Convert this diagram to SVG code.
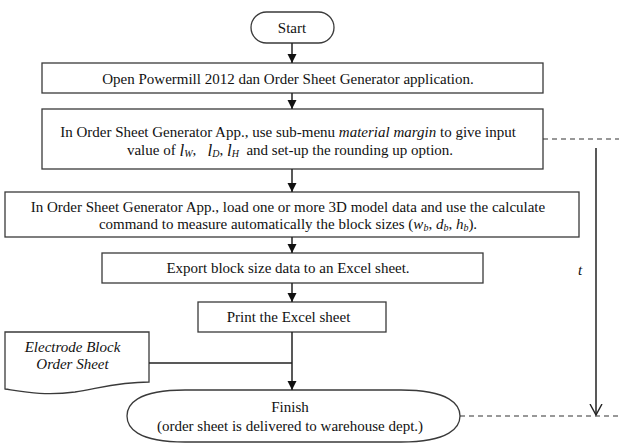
<svg xmlns="http://www.w3.org/2000/svg" width="619" height="448" viewBox="0 0 619 448">
<style>
.box{fill:#fff;stroke:#3a3a3a;stroke-width:1.3}
.t{font-family:"Liberation Serif","Times New Roman",serif;font-size:15px;fill:#111;text-anchor:middle;dominant-baseline:central}
.i{font-style:italic}
.m{font-style:italic;font-size:17px}
.sub{font-size:10px;font-style:italic}
.ln{stroke:#222;stroke-width:1.5;fill:none}
.dash{stroke:#333;stroke-width:1.2;stroke-dasharray:5,4;fill:none}
</style>
<defs>
<marker id="ah" markerWidth="10" markerHeight="10" refX="9" refY="5" orient="auto" markerUnits="userSpaceOnUse">
<path d="M0,0.5 L9,5 L0,9.5 Z" fill="#111"/>
</marker>
<marker id="oa" markerWidth="14" markerHeight="16" refX="11" refY="7" orient="auto" markerUnits="userSpaceOnUse">
<path d="M0,1 L11,7 L0,13" fill="none" stroke="#222" stroke-width="1.4"/>
</marker>
</defs>
<g id="start">
<rect class="box" x="251" y="12" width="83" height="31" rx="15.5" ry="15.5"/>
<text class="t" x="292" y="27.5">Start</text>
</g>
<g id="step1">
<rect class="box" x="42" y="63" width="501" height="30"/>
<text class="t" x="288" y="78.5">Open Powermill 2012 dan Order Sheet Generator application.</text>
</g>
<g id="step2">
<rect class="box" x="42" y="109" width="501" height="60"/>
<text class="t" x="288" y="131.5">In Order Sheet Generator App., use sub-menu <tspan class="i">material margin</tspan> to give input</text>
<text class="t" x="290" y="149.5" xml:space="preserve">value of <tspan class="m">l</tspan><tspan class="sub" dy="3">W</tspan><tspan dy="-3">,   </tspan><tspan class="m">l</tspan><tspan class="sub" dy="3">D</tspan><tspan dy="-3">, </tspan><tspan class="m">l</tspan><tspan class="sub" dy="3">H</tspan><tspan dy="-3">  and set-up the rounding up option.</tspan></text>
</g>
<g id="step3">
<rect class="box" x="5" y="192" width="574" height="45"/>
<text class="t" x="288" y="206.5">In Order Sheet Generator App., load one or more 3D model data and use the calculate</text>
<text class="t" x="288" y="223.5">command to measure automatically the block sizes (<tspan class="i">w</tspan><tspan class="sub" dy="3">b</tspan><tspan dy="-3">, </tspan><tspan class="i">d</tspan><tspan class="sub" dy="3">b</tspan><tspan dy="-3">, </tspan><tspan class="i">h</tspan><tspan class="sub" dy="3">b</tspan><tspan dy="-3">).</tspan></text>
</g>
<g id="step4">
<rect class="box" x="102" y="253" width="381" height="30"/>
<text class="t" x="288" y="268">Export block size data to an Excel sheet.</text>
</g>
<g id="step5">
<rect class="box" x="198" y="302" width="188" height="30"/>
<text class="t" x="288.5" y="317">Print the Excel sheet</text>
</g>
<g id="document">
<path class="box" d="M5,332 L149,332 L149,382 C120,382 100,388 75,392 C45,396 25,392 5,389 Z"/>
<text class="t i" x="72.5" y="347">Electrode Block</text>
<text class="t i" x="72.5" y="364">Order Sheet</text>
</g>
<g id="finish">
<path class="box" d="M185,390 L401,390 C450,390 460,405 460,416 C460,427 450,442 401,442 L185,442 C136,442 127,427 127,416 C127,405 136,390 185,390 Z"/>
<text class="t" x="290" y="407">Finish</text>
<text class="t" x="290" y="426">(order sheet is delivered to warehouse dept.)</text>
</g>
<g id="time">
<text class="t i" x="580" y="270">t</text>
</g>
<g id="connectors">
<line class="ln" x1="292" y1="43" x2="292" y2="63" marker-end="url(#ah)"/>
<line class="ln" x1="292" y1="93" x2="292" y2="109" marker-end="url(#ah)"/>
<line class="ln" x1="292" y1="169" x2="292" y2="192" marker-end="url(#ah)"/>
<line class="ln" x1="292" y1="237" x2="292" y2="253" marker-end="url(#ah)"/>
<line class="ln" x1="292" y1="283" x2="292" y2="302" marker-end="url(#ah)"/>
<line class="ln" x1="292" y1="332" x2="292" y2="390" marker-end="url(#ah)"/>
<line class="ln" x1="149" y1="363" x2="292" y2="363"/>
<line class="dash" x1="543" y1="139" x2="619" y2="139"/>
<line class="dash" x1="460" y1="416" x2="619" y2="416"/>
<line class="ln" x1="596" y1="148" x2="596" y2="415" marker-end="url(#oa)"/>
</g>
</svg>
